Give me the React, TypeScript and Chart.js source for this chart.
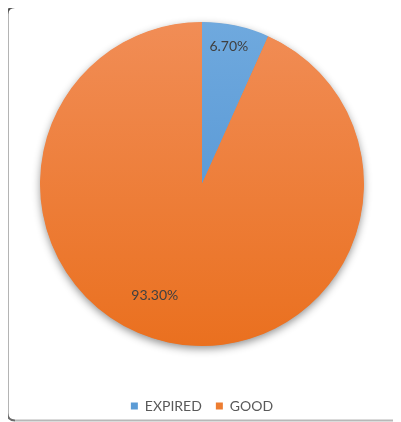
import React, { useEffect, useRef } from "react";
import { Chart, registerables } from "chart.js";

Chart.register(...registerables);

const categories = ["EXPIRED", "GOOD"];
const values = [6.7, 93.3];
const solidColors = ["#5B9BD5", "#ED7D31"];
const gradientTops = ["#6FA9DE", "#F18D56"];
const gradientBottoms = ["#4A8ED0", "#EA701F"];
const PIE_RADIUS = 162;
const CANVAS_SHIFT = 18;

const framePlugin = {
  id: "frame",
  beforeDraw(chart: any) {
    const ctx = chart.ctx;
    const s = CANVAS_SHIFT;
    ctx.save();
    ctx.lineCap = "butt";
    ctx.strokeStyle = "#555555";
    ctx.lineWidth = 2;
    ctx.beginPath();
    ctx.moveTo(chart.width + 2, 7 + s);
    ctx.lineTo(15, 7 + s);
    ctx.quadraticCurveTo(7.5, 7 + s, 7.5, 14 + s);
    ctx.stroke();
    ctx.strokeStyle = "#6a6a6a";
    ctx.lineWidth = 2;
    ctx.beginPath();
    ctx.moveTo(7.5, 14 + s);
    ctx.lineTo(7.5, 413 + s);
    ctx.quadraticCurveTo(7.5, 420.5 + s, 15, 420.5 + s);
    ctx.stroke();
    ctx.strokeStyle = "#b8b8b8";
    ctx.lineWidth = 2;
    ctx.beginPath();
    ctx.moveTo(15, 420.5 + s);
    ctx.lineTo(chart.width + 2, 420.5 + s);
    ctx.stroke();
    ctx.restore();
  },
};

const shadowPlugin = {
  id: "pieShadow",
  beforeDatasetsDraw(chart: any) {
    const meta = chart.getDatasetMeta(0);
    const arc = meta.data[0];
    if (!arc) return;
    const { x, y, outerRadius } = arc.getProps(["x", "y", "outerRadius"], true);
    const ctx = chart.ctx;
    ctx.save();
    ctx.shadowColor = "rgba(0,0,0,0.45)";
    ctx.shadowBlur = 9;
    ctx.shadowOffsetX = 0;
    ctx.shadowOffsetY = 3;
    ctx.beginPath();
    ctx.arc(x, y, outerRadius - 0.5, 0, Math.PI * 2);
    ctx.fillStyle = "#ED7D31";
    ctx.fill();
    ctx.restore();
  },
};

const labelPlugin = {
  id: "sliceLabels",
  afterDatasetsDraw(chart: any, _args: any, opts: any) {
    const meta = chart.getDatasetMeta(0);
    const ctx = chart.ctx;
    ctx.save();
    ctx.font = "14px Lato, 'Open Sans', sans-serif";
    ctx.fillStyle = "#404040";
    ctx.textAlign = "center";
    ctx.textBaseline = "middle";
    meta.data.forEach((arc: any, i: number) => {
      const { x, y, startAngle, endAngle, outerRadius } = arc.getProps(
        ["x", "y", "startAngle", "endAngle", "outerRadius"],
        true
      );
      const place = (opts.placement && opts.placement[i]) || { f: 0.7, shift: 0 };
      const mid = (startAngle + endAngle) / 2 + (place.shift * Math.PI) / 180;
      const r = outerRadius * place.f;
      const v = chart.data.datasets[0].data[i];
      ctx.fillText(v.toFixed(2) + "%", x + Math.cos(mid) * r, y + Math.sin(mid) * r);
    });
    ctx.restore();
  },
};

function App() {
  const canvasRef = useRef<HTMLCanvasElement>(null);

  useEffect(() => {
    const canvas = canvasRef.current;
    if (!canvas) return;
    const makeGradient = (c: any, i: number) => {
      const chart = c.chart;
      const area = chart.chartArea;
      if (!area) return solidColors[i];
      const cy = (area.top + area.bottom) / 2;
      const g = chart.ctx.createLinearGradient(0, cy - PIE_RADIUS, 0, cy + PIE_RADIUS);
      g.addColorStop(0, gradientTops[i]);
      g.addColorStop(1, gradientBottoms[i]);
      return g;
    };
    const chart = new Chart(canvas, {
      type: "pie",
      data: {
        labels: categories,
        datasets: [
          {
            data: values,
            backgroundColor: (c: any) => makeGradient(c, c.dataIndex),
            borderWidth: 0,
            radius: PIE_RADIUS,
          } as any,
        ],
      },
      options: {
        animation: false,
        responsive: false,
        maintainAspectRatio: false,
        layout: { padding: { left: 3, right: 0, top: 1, bottom: 0 } },
        plugins: {
          tooltip: { enabled: false },
          legend: {
            position: "bottom",
            labels: {
              boxWidth: 7,
              boxHeight: 7,
              padding: 14,
              color: "#595959",
              font: { family: "Lato, 'Open Sans', sans-serif", size: 14 },
              generateLabels: (ch: any) =>
                ch.data.labels.map((t: string, i: number) => ({
                  text: t,
                  fillStyle: solidColors[i],
                  strokeStyle: solidColors[i],
                  lineWidth: 0,
                  hidden: false,
                  index: i,
                  fontColor: "#595959",
                })),
            },
          },
          sliceLabels: {
            placement: [
              { f: 0.865, shift: -1 },
              { f: 0.75, shift: 10.8 },
            ],
          },
        } as any,
      },
      plugins: [framePlugin, shadowPlugin, labelPlugin],
    });
    return () => chart.destroy();
  }, []);

  return (
    <div
      style={{
        position: "relative",
        width: 401,
        height: 422,
        margin: "-8px 0 0 -8px",
        overflow: "hidden",
        background: "#fff",
      }}
    >
      <canvas
        ref={canvasRef}
        width={401}
        height={441}
        style={{ position: "absolute", left: 0, top: -CANVAS_SHIFT, width: 401, height: 441 }}
      />
    </div>
  );
}

export default App;
